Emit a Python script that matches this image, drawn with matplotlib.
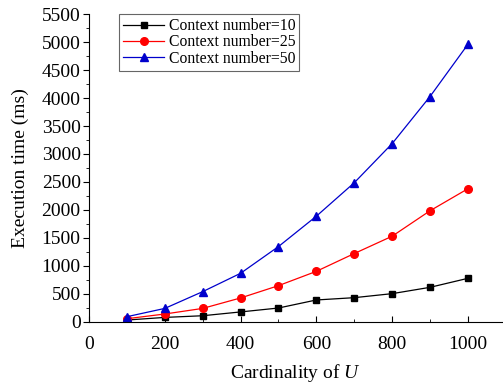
import numpy as np
import matplotlib.pyplot as plt
from matplotlib.ticker import MultipleLocator

plt.rcParams['font.family'] = ['Liberation Serif', 'DejaVu Serif']
plt.rcParams['mathtext.fontset'] = 'custom'
plt.rcParams['mathtext.it'] = 'Liberation Serif:italic'

# DATA
cardinality = [100, 200, 300, 400, 500, 600, 700, 800, 900, 1000]
time_ctx10 = [30, 77, 107, 175, 245, 389, 430, 502, 615, 776]
time_ctx25 = [54, 138, 238, 425, 645, 901, 1219, 1529, 1984, 2378]
time_ctx50 = [90, 238, 538, 866, 1344, 1887, 2485, 3185, 4027, 4960]

fig = plt.figure(figsize=(5.03, 3.83), dpi=100)
ax = fig.add_axes([0.177, 0.16, 0.821, 0.803])

ax.plot(cardinality, time_ctx10, color='black', marker='s', markersize=4.5,
        linewidth=0.9, label='Context number=10')
ax.plot(cardinality, time_ctx25, color='red', marker='o', markersize=5.5,
        linewidth=0.9, label='Context number=25')
ax.plot(cardinality, time_ctx50, color='#0000cc', marker='^', markersize=6,
        linewidth=0.9, label='Context number=50')

ax.set_xlim(0, 1090)
ax.set_ylim(0, 5500)
ax.xaxis.set_major_locator(MultipleLocator(200))
ax.xaxis.set_minor_locator(MultipleLocator(100))
ax.yaxis.set_major_locator(MultipleLocator(500))
ax.yaxis.set_minor_locator(MultipleLocator(250))

ax.spines['top'].set_visible(False)
ax.spines['right'].set_visible(False)
ax.tick_params(axis='y', which='major', direction='out', length=4, labelsize=14, pad=2)
ax.tick_params(axis='y', which='minor', direction='out', length=2)
ax.tick_params(axis='x', which='major', direction='in', length=4, labelsize=14, pad=10)
ax.tick_params(axis='x', which='minor', direction='in', length=2)

ax.set_xlabel('Cardinality of $U$', fontsize=14, labelpad=7)
ax.set_ylabel('Execution time (ms)', fontsize=14, labelpad=9)

leg = ax.legend(loc='upper left', bbox_to_anchor=(0.073, 1.0), fontsize=11.3,
                fancybox=False, edgecolor='0.4', framealpha=1,
                handlelength=2.6, handletextpad=0.3, borderpad=0.25,
                labelspacing=0.02, borderaxespad=0)
leg.get_frame().set_linewidth(0.8)

fig.savefig('out.png', dpi=100)
